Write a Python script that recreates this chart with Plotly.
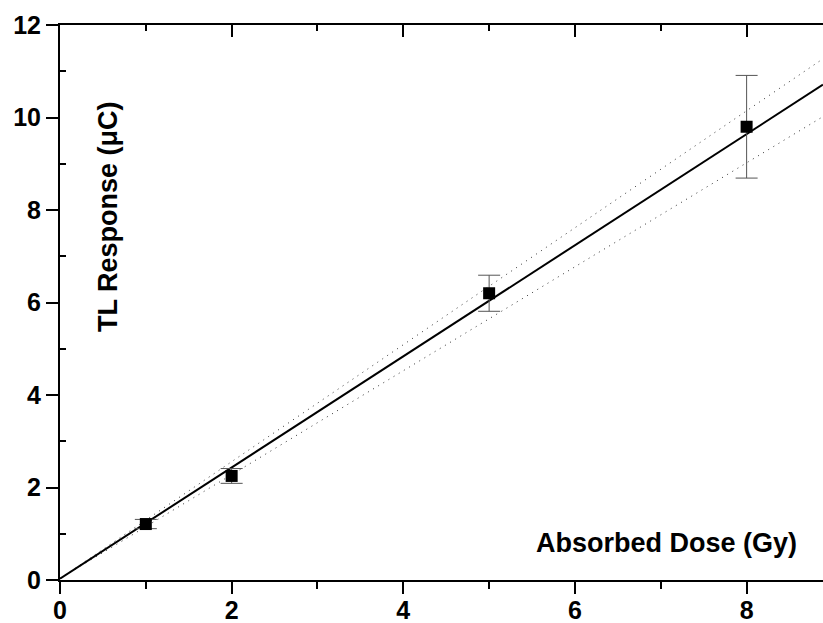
import plotly.graph_objects as go

# Data
dose = [1, 2, 5, 8]
response = [1.21, 2.25, 6.20, 9.80]
response_err = [0.10, 0.16, 0.39, 1.11]

fit_x = [0, 8.89]
fit_y = [0.03, 10.71]
upper_y = [0.03, 11.27]
lower_y = [0.03, 10.02]

x_ticks = [0, 2, 4, 6, 8]
y_ticks = [0, 2, 4, 6, 8, 10, 12]

FONT = "Liberation Sans, Arial, sans-serif"
W, H = 823, 623
L, R, T, B = 60, 0, 25, 43

fig = go.Figure()

fig.add_trace(go.Scatter(x=fit_x, y=upper_y, mode="lines",
                         line=dict(color="#333", width=1, dash="1px,5px"), showlegend=False))
fig.add_trace(go.Scatter(x=fit_x, y=lower_y, mode="lines",
                         line=dict(color="#333", width=1, dash="1px,5px"), showlegend=False))
fig.add_trace(go.Scatter(x=fit_x, y=fit_y, mode="lines",
                         line=dict(color="black", width=2), showlegend=False))
fig.add_trace(go.Scatter(x=dose, y=response, mode="markers",
                         marker=dict(symbol="square", size=12, color="black"),
                         error_y=dict(type="data", array=response_err, visible=True,
                                      color="#555", thickness=1, width=11),
                         showlegend=False))
# invisible trace to activate top axis
fig.add_trace(go.Scatter(x=[0], y=[0], xaxis="x2", mode="markers",
                         marker=dict(opacity=0), showlegend=False, hoverinfo="skip"))

tickfont = dict(family=FONT, size=25, weight="bold", color="black")
titlefont = dict(family=FONT, size=27, weight="bold", color="black")

fig.update_layout(
    width=W, height=H,
    margin=dict(l=L, r=R, t=T, b=B, pad=0, autoexpand=False),
    plot_bgcolor="white", paper_bgcolor="white",
    font=dict(family=FONT, color="black"),
    xaxis=dict(range=[0, 8.89], tickvals=x_ticks, ticks="outside", ticklen=12, tickwidth=2,
               tickcolor="black", showline=True, linewidth=2, linecolor="black",
               showgrid=False, zeroline=False, tickfont=tickfont, automargin=False,
               ticklabelstandoff=-5,
               minor=dict(tickvals=[1, 3, 5, 7], ticks="outside", ticklen=7, tickwidth=2,
                          tickcolor="black", showgrid=False)),
    xaxis2=dict(range=[0, 8.89], overlaying="x", side="top", tickvals=x_ticks,
                ticks="inside", ticklen=12, tickwidth=2, tickcolor="black",
                showline=True, linewidth=2, linecolor="black", showticklabels=False,
                showgrid=False, zeroline=False, automargin=False,
                minor=dict(tickvals=[1, 3, 5, 7], ticks="inside", ticklen=6, tickwidth=2,
                           tickcolor="black", showgrid=False)),
    yaxis=dict(range=[0, 12], tickvals=y_ticks, ticks="outside", ticklen=12, tickwidth=2,
               tickcolor="black", showline=True, linewidth=2, linecolor="black",
               showgrid=False, zeroline=False, tickfont=tickfont, automargin=False,
               minor=dict(tickvals=[1, 3, 5, 7, 9, 11], ticks="inside", ticklen=6, tickwidth=2,
                          tickcolor="black", showgrid=False)),
)

pw, ph = W - L - R, H - T - B
def px_to_paper(px, py):
    return (px - L) / pw, 1 - (py - T) / ph

ax, ay = px_to_paper(666, 543)
bx, by = px_to_paper(108, 217)
fig.add_annotation(text="Absorbed Dose (Gy)", x=ax, y=ay, xref="paper", yref="paper",
                   xanchor="center", yanchor="middle", showarrow=False, font=titlefont)
fig.add_annotation(text="TL Response (\u03bcC)", x=bx, y=by, xref="paper", yref="paper",
                   xanchor="center", yanchor="middle", textangle=-90,
                   showarrow=False, font=titlefont)

fig.write_html("out.html", config={"displayModeBar": False},
               post_script="document.body.style.margin='0';")
